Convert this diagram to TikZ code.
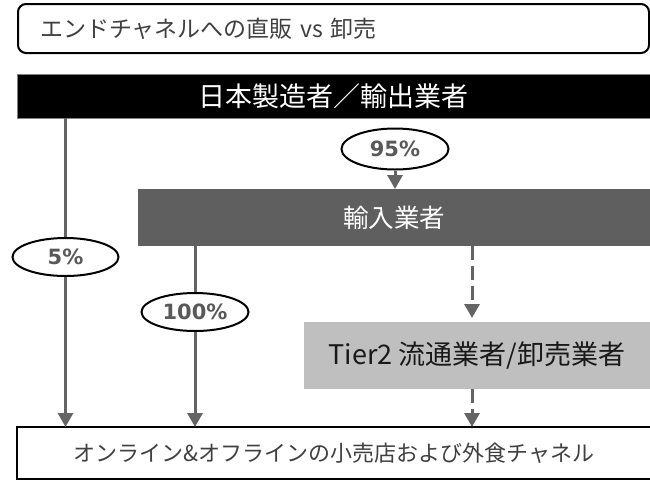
\documentclass[tikz,border=0pt]{standalone}
\usepackage{fontspec}
\setmainfont{Noto Sans CJK JP}
\newfontfamily\pctfont{DejaVu Sans}
\usetikzlibrary{arrows.meta,shapes.geometric}
\definecolor{arrowgray}{HTML}{646464}
\definecolor{impgray}{HTML}{5F5F5F}
\definecolor{tiergray}{HTML}{BFBFBF}
\definecolor{txtgray}{HTML}{404040}
\definecolor{pctgray}{HTML}{595959}
\definecolor{bargray}{HTML}{7F7F7F}
\tikzset{
  box/.style={rectangle, inner sep=0pt, outer sep=0pt},
  pct/.style={ellipse, draw=black, line width=2pt, fill=white, inner sep=0pt,
    text=pctgray, font=\pctfont\bfseries\fontsize{21pt}{24pt}\selectfont},
  flow/.style={draw=arrowgray, line width=3pt},
  flowarr/.style={flow, -{Triangle[width=15pt,length=14pt]}},
  dashflow/.style={flowarr, dash pattern=on 14pt off 6pt},
}
\begin{document}
\begin{tikzpicture}[x=1pt,y=-1pt]
\useasboundingbox (0,0) rectangle (650,483);
% title
\node[box, draw=black, line width=2pt, rounded corners=8pt,
      minimum width=631pt, minimum height=49pt, text width=587pt, inner xsep=22pt,
      align=left, text=txtgray, font=\fontsize{23pt}{27pt}\selectfont]
  (title) at (333.5,28.5) {エンドチャネルへの直販 vs 卸売};
% manufacturer bar
\node[box, fill=black, draw=bargray, line width=1pt,
      minimum width=633pt, minimum height=44pt, text=white,
      font=\fontsize{27pt}{31pt}\selectfont]
  (bar) at (333.5,96) {日本製造者／輸出業者};
% importer
\node[box, fill=impgray, minimum width=512pt, minimum height=57pt, text=white,
      font=\fontsize{25.5pt}{29pt}\selectfont]
  (imp) at (394,217.5) {輸入業者};
% tier2
\node[box, fill=tiergray, minimum width=346pt, minimum height=67pt, text=black!90,
      font=\fontsize{27pt}{31pt}\selectfont]
  (tier) at (477,355.5) {Tier2 流通業者/卸売業者};
% retail
\node[box, draw=black, line width=1.8pt, fill=white, minimum width=634pt, minimum height=52pt,
      text=txtgray, font=\fontsize{22pt}{26pt}\selectfont]
  (retail) at (334,453) {オンライン\&オフラインの小売店および外食チャネル};
% percentages
\node[pct, minimum width=106pt, minimum height=38pt] (e5) at (65.5,257) {5\%};
\node[pct, minimum width=107pt, minimum height=41pt] (e95) at (395,149) {95\%};
\node[pct, minimum width=107pt, minimum height=38pt] (e100) at (195,312) {100\%};
\coordinate (dx) at (472,0);
% connectors
\draw[flow] (bar.south -| e5.center) -- (e5.north);
\draw[flowarr] (e5.south) -- (e5.south |- retail.north);
\draw[flowarr] (e95.south) -- (e95.south |- imp.north);
\draw[flow] (imp.south -| e100.center) -- (e100.north);
\draw[flowarr] (e100.south) -- (e100.south |- retail.north);
\draw[dashflow, shorten >=4pt] (imp.south -| dx) -- (tier.north -| dx);
\draw[dashflow] (tier.south -| dx) -- (retail.north -| dx);
\end{tikzpicture}
\end{document}
